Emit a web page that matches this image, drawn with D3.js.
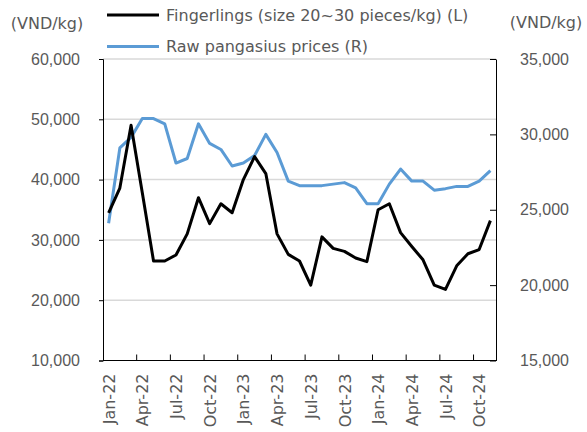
<!DOCTYPE html>
<html>
<head>
<meta charset="utf-8">
<script src="https://cdn.jsdelivr.net/npm/d3@7"></script>
<style>
  html, body { margin: 0; padding: 0; background: #fff; }
  svg { display: block; font-family: "DejaVu Sans", Verdana, sans-serif; }
</style>
</head>
<body>
<svg id="chart" width="587" height="432"></svg>
<script>
// Monthly categories, Jan-22 .. Nov-24
const months = [
  "Jan-22","Feb-22","Mar-22","Apr-22","May-22","Jun-22","Jul-22","Aug-22","Sep-22","Oct-22","Nov-22","Dec-22",
  "Jan-23","Feb-23","Mar-23","Apr-23","May-23","Jun-23","Jul-23","Aug-23","Sep-23","Oct-23","Nov-23","Dec-23",
  "Jan-24","Feb-24","Mar-24","Apr-24","May-24","Jun-24","Jul-24","Aug-24","Sep-24","Oct-24","Nov-24"
];

// Fingerling prices (size 20~30 pieces/kg), VND/kg, left axis
const fingerlings = [
  34500, 38600, 49000, 37800, 26500, 26500, 27500, 31000, 37000, 32700, 36000, 34500,
  40000, 43800, 41000, 31000, 27600, 26500, 22500, 30500, 28600, 28100, 27000, 26400,
  35000, 36000, 31200, 28900, 26700, 22500, 21800, 25700, 27700, 28400, 33200
];

// Raw pangasius prices, VND/kg, right axis
const rawPrices = [
  24100, 29100, 29800, 31050, 31050, 30700, 28100, 28400, 30700, 29400, 29000, 27900,
  28100, 28600, 30000, 28800, 26900, 26600, 26600, 26600, 26700, 26800, 26450, 25400,
  25400, 26700, 27700, 26900, 26900, 26300, 26400, 26550, 26550, 26900, 27600
];

const leftTicks = [10000, 20000, 30000, 40000, 50000, 60000];
const rightTicks = [15000, 20000, 25000, 30000, 35000];
const seriesNames = ["Fingerlings (size 20~30 pieces/kg) (L)", "Raw pangasius prices (R)"];
const unitLabel = "(VND/kg)";

const textColor = "#595959";
const blue = "#5B9BD5";

const svg = d3.select("#chart");
const plot = { left: 103, right: 496, top: 59, bottom: 360.5 };

const x = d3.scaleBand().domain(months).range([plot.left, plot.right]).padding(0);
const yL = d3.scaleLinear().domain([10000, 60000]).range([plot.bottom, plot.top]);
const yR = d3.scaleLinear().domain([15000, 35000]).range([plot.bottom, plot.top]);
const fmt = d3.format(",");

// Horizontal gridlines from the left axis
svg.append("g")
  .selectAll("line")
  .data(leftTicks.filter(d => d > 10000))
  .join("line")
  .attr("x1", plot.left).attr("x2", plot.right)
  .attr("y1", d => yL(d)).attr("y2", d => yL(d))
  .attr("stroke", "#d9d9d9").attr("stroke-width", 1.5);

// Left axis
const gL = svg.append("g").attr("transform", `translate(${plot.left},0)`)
  .call(d3.axisLeft(yL).tickValues(leftTicks).tickFormat(fmt).tickSize(4).tickPadding(19));
gL.select(".domain").attr("stroke", "#000");
gL.selectAll(".tick line").attr("stroke", "#000");
gL.selectAll(".tick text").attr("fill", textColor).style("font-size", "16px");

// Right axis (ticks point into the plot)
const gR = svg.append("g").attr("transform", `translate(${plot.right},0)`)
  .call(d3.axisRight(yR).tickValues(rightTicks).tickFormat(fmt).tickSizeInner(-6).tickSizeOuter(0).tickPadding(24));
gR.select(".domain").attr("stroke", "#000");
gR.selectAll(".tick line").attr("stroke", "#000");
gR.selectAll(".tick text").attr("fill", textColor).style("font-size", "16px");

// Bottom axis: tick marks between categories every quarter, labels at category centers
const bw = x.bandwidth();
const gB = svg.append("g").attr("transform", `translate(0,${plot.bottom})`);
gB.append("line")
  .attr("x1", plot.left).attr("x2", plot.right)
  .attr("stroke", "#000");
gB.selectAll("line.tk")
  .data(months.filter((d, i) => i > 0 && i % 3 === 0))
  .join("line")
  .attr("class", "tk")
  .attr("x1", d => x(d)).attr("x2", d => x(d))
  .attr("y1", 0).attr("y2", -6)
  .attr("stroke", "#000");
gB.selectAll("text")
  .data(months.filter((d, i) => i % 3 === 0))
  .join("text")
  .attr("transform", d => `translate(${x(d) + bw / 2 + 0.5},13) rotate(-90)`)
  .attr("text-anchor", "end")
  .attr("dy", "0.35em")
  .attr("fill", textColor)
  .style("font-size", "16px")
  .text(d => d);

// Series lines
const lineL = d3.line().x((d, i) => x(months[i]) + bw / 2).y(d => yL(d));
const lineR = d3.line().x((d, i) => x(months[i]) + bw / 2).y(d => yR(d));

svg.append("path").datum(rawPrices)
  .attr("d", lineR).attr("fill", "none")
  .attr("stroke", blue).attr("stroke-width", 3).attr("stroke-linejoin", "round");

svg.append("path").datum(fingerlings)
  .attr("d", lineL).attr("fill", "none")
  .attr("stroke", "#000").attr("stroke-width", 3).attr("stroke-linejoin", "round");

// Unit labels
svg.append("text").attr("x", 47).attr("y", 23).attr("dy", "0.35em")
  .attr("text-anchor", "middle").attr("fill", textColor).style("font-size", "16px").text(unitLabel);
svg.append("text").attr("x", 546).attr("y", 22).attr("dy", "0.35em")
  .attr("text-anchor", "middle").attr("fill", textColor).style("font-size", "16px").text(unitLabel);

// Legend
const legend = svg.append("g");
const legendColors = ["#000", blue];
seriesNames.forEach((name, i) => {
  const ly = 15 + i * 31.5;
  legend.append("line").attr("x1", 107).attr("x2", 159)
    .attr("y1", ly).attr("y2", ly)
    .attr("stroke", legendColors[i]).attr("stroke-width", 3);
  legend.append("text").attr("x", 166).attr("y", ly).attr("dy", "0.35em")
    .attr("fill", textColor).style("font-size", "16px").text(name);
});
</script>
</body>
</html>
